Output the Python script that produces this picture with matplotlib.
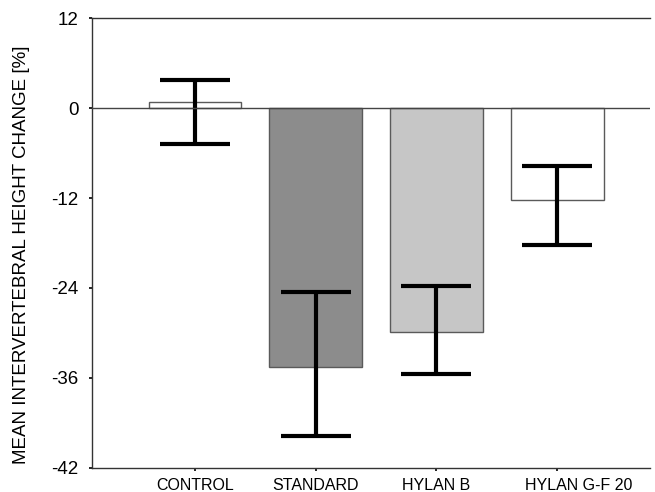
import numpy as np
import matplotlib.pyplot as plt
import matplotlib.transforms as mtransforms

plt.rcParams['font.family'] = ['Liberation Sans', 'DejaVu Sans']

# group means and error bar ends (percent height change)
groups = ['CONTROL', 'STANDARD', 'HYLAN B', 'HYLAN G-F 20']
means = [0.8, -34.6, -29.9, -12.3]
err_top = [3.7, -24.5, -23.7, -7.7]
err_bottom = [-4.8, -43.7, -35.5, -18.3]
bar_colors = ['white', '#8c8c8c', '#c6c6c6', 'white']

yticks = [12, 0, -12, -24, -36, -48]
ytick_labels = ['12', '0', '-12', '-24', '-36', '-42']

fig = plt.figure(figsize=(6.55, 4.92), dpi=100)
ax = fig.add_axes([0.1405, 0.0488, 0.852, 0.9146])

x = np.arange(len(groups))
means = np.array(means)
lower = means - np.array(err_bottom)
upper = np.array(err_top) - means

ax.bar(x, means, width=0.77, color=bar_colors, edgecolor='#5a5a5a', linewidth=1.0, zorder=2)
ax.errorbar(x, means, yerr=[lower, upper], fmt='none', ecolor='black',
            elinewidth=3.0, capsize=25, capthick=3.0, zorder=3)
ax.axhline(0, color='#444444', linewidth=1.0, zorder=4)

ax.set_xlim(-0.853, 3.77)
ax.set_ylim(-48, 12)
ax.set_xticks(x)
ax.set_xticklabels(groups, fontsize=11.5)
ax.set_yticks(yticks)
ax.set_yticklabels(ytick_labels, fontsize=13.5)
ax.tick_params(axis='both', length=2.5, width=1.2, color='black')
ax.tick_params(axis='y', pad=7)
ax.tick_params(axis='x', pad=5)

# last group label sits a little right of its tick
lbl = ax.get_xticklabels()[-1]
lbl.set_transform(lbl.get_transform() + mtransforms.ScaledTranslation(0.22, 0, fig.dpi_scale_trans))

fig.text(22 / 655, 1 - 255 / 492, 'MEAN INTERVERTEBRAL HEIGHT CHANGE [%]',
         rotation=90, ha='center', va='center', fontsize=13.5)

ax.spines['right'].set_visible(False)
for side in ['left', 'bottom', 'top']:
    ax.spines[side].set_color('#333333')
    ax.spines[side].set_linewidth(1.0)

fig.savefig('out.png', dpi=100)
